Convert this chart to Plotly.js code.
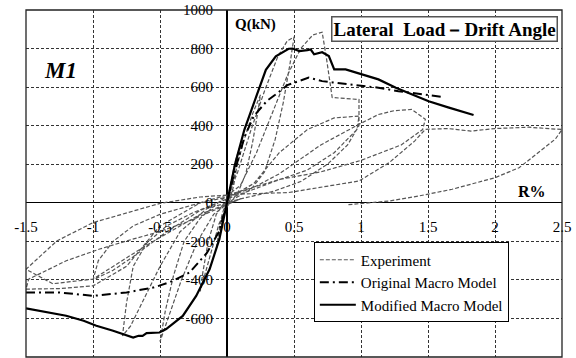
<!DOCTYPE html>
<html>
<head>
<meta charset="utf-8">
<script src="https://cdn.plot.ly/plotly-3.0.1.min.js"></script>
<style>html,body{margin:0;padding:0;background:#fff;}#chart{width:576px;height:358px;}</style>
</head>
<body>
<div id="chart"></div>
<script>
// Experiment (cyclic test), R% and Q(kN)
const expR = [0,0.03,0.06,0.1,0.08,0.05,0.02,-0.02,-0.05,-0.08,-0.065,-0.04,-0.01,0.02,
  0.06,0.12,0.19,0.25,0.23,0.19,0.14,0.08,0.0,-0.06,-0.12,-0.2,-0.18,-0.14,-0.08,0,
  0.08,0.18,0.28,0.38,0.45,0.5,0.47,0.42,0.36,0.28,0.18,0.05,-0.1,-0.22,-0.34,-0.43,-0.5,-0.46,-0.4,-0.32,-0.2,-0.05,
  0.1,0.22,0.34,0.45,0.55,0.64,0.71,0.74,0.785,0.9,0.985,0.985,0.9,0.75,0.55,0.35,0.1,-0.15,-0.35,-0.5,-0.62,-0.72,-0.78,-0.75,-0.7,-0.6,-0.45,-0.25,0,
  0.2,0.39,0.6,0.8,0.985,0.97,0.8,0.6,0.39,0.2,0,-0.2,
  -0.45,-0.7,-0.85,-1.0,-0.96,-0.85,-0.7,-0.5,-0.25,0,
  0.2,0.39,0.7,0.985,1.13,1.25,1.38,1.48,1.46,1.3,1.0,0.7,0.39,0.1,-0.2,
  -0.5,-0.75,-1.0,-1.25,-1.5,-1.48,-1.2,-0.95,-0.75,-0.53,-0.3,-0.1,0.1,
  -0.2,-0.6,-1.0,-1.3,-1.5,
  -1.27,-1.0,-0.7,-0.5,-0.2,0.1,0.46,0.985,1.21,1.4,1.48,1.65,1.82,2.0,2.25,2.5,
  2.45,2.32,2.18,2.0,1.68,1.43,1.21,0.9];
const expQ = [0,110,210,300,220,90,10,-50,-140,-240,-170,-70,0,40,
  150,310,460,560,470,310,150,50,-20,-110,-260,-460,-360,-200,-60,20,
  160,380,580,760,840,860,720,520,330,160,70,20,-60,-200,-400,-580,-720,-560,-380,-200,-80,10,
  90,260,470,660,800,870,885,760,546,540,536,400,300,200,110,60,20,-30,-150,-330,-500,-640,-690,-520,-330,-210,-120,-50,20,
  100,260,380,440,450,380,260,170,120,70,20,-40,
  -150,-280,-350,-400,-300,-200,-120,-60,-10,30,
  80,150,300,407,458,478,484,433,380,300,220,160,121,60,0,
  -120,-330,-431,-445,-448,-396,-301,-240,-198,-155,-100,-40,20,
  -60,-220,-396,-420,-345,
  -198,-103,-42,-3,30,45,53,113,208,320,381,385,372,385,392,380,
  330,260,182,130,70,35,9,-10];

// Original Macro Model
const origR = [-1.5,-1.25,-1.0,-0.75,-0.55,-0.43,-0.28,-0.15,-0.06,0,0.06,0.13,0.2,0.3,0.36,0.45,0.61,0.71,0.79,0.96,1.13,1.28,1.45,1.62];
const origQ = [-465,-465,-483,-465,-440,-413,-362,-260,-150,0,170,340,450,530,560,610,649,631,624,609,597,579,562,548];

// Modified Macro Model
const modR = [-1.5,-1.32,-1.2,-1.07,-0.975,-0.85,-0.75,-0.70,-0.66,-0.63,-0.60,-0.504,-0.454,-0.33,-0.23,-0.13,-0.057,0,0.06,0.13,0.24,0.29,0.364,0.46,0.49,0.54,0.6,0.625,0.65,0.71,0.76,0.80,0.885,1.01,1.13,1.26,1.38,1.505,1.65,1.84];
const modQ = [-548,-569,-586,-612,-638,-664,-690,-699,-690,-690,-676,-673,-655,-587,-483,-345,-189,0,200,380,598,690,760,799,800,787,792,795,770,781,761,692,692,666,640,597,562,527,495,455];

const xTicks = [-1.5,-1,-0.5,0,0.5,1,1.5,2,2.5];
const xTickText = ['-1.5','-1','-0.5','0','0.5','1','1.5','2','2.5'];
const yTicks = [-800,-600,-400,-200,0,200,400,600,800,1000];
const yTickText = ['-800','-600','-400','-200','0','200','400','600','800','1000'];

const serif = 'Liberation Serif, DejaVu Serif, serif';

const traces = [
  {x: expR, y: expQ, mode: 'lines', name: 'Experiment',
   line: {color: '#555', width: 1.2, dash: '4px,2px'}},
  {x: origR, y: origQ, mode: 'lines', name: 'Original Macro Model',
   line: {color: '#000', width: 2, dash: '9px,4px,2px,4px'}},
  {x: modR, y: modQ, mode: 'lines', name: 'Modified Macro Model',
   line: {color: '#000', width: 2.2}}
];

const layout = {
  width: 576, height: 358,
  margin: {l: 26, r: 14, t: 10, b: 1},
  paper_bgcolor: '#fff', plot_bgcolor: '#fff',
  showlegend: true,
  font: {family: serif, size: 15, color: '#000'},
  xaxis: {
    range: [-1.5, 2.5], tickvals: xTicks, ticktext: xTickText,
    anchor: 'free', position: 800/1800,
    showgrid: true, gridcolor: '#333', griddash: '3px,2px', gridwidth: 1,
    zeroline: true, zerolinecolor: '#000', zerolinewidth: 1.3,
    showline: false, ticks: '', ticklabelstandoff: 13,
    tickfont: {family: serif, size: 15, color: '#000'}, fixedrange: true
  },
  yaxis: {
    range: [-800, 1000], tickvals: yTicks, ticktext: yTickText,
    anchor: 'free', position: 1.5/4,
    showgrid: true, gridcolor: '#333', griddash: '3px,2px', gridwidth: 1,
    zeroline: true, zerolinecolor: '#000', zerolinewidth: 1.3,
    showline: false, ticks: '', ticklabelstandoff: 14,
    tickfont: {family: serif, size: 15, color: '#000'}, fixedrange: true
  },
  legend: {
    x: 0.537, y: 0.33, xanchor: 'left', yanchor: 'top',
    bgcolor: '#fff', bordercolor: '#000', borderwidth: 1,
    font: {family: serif, size: 15, color: '#000'},
    tracegroupgap: 0, itemwidth: 36
  },
  shapes: [
    {type: 'rect', xref: 'paper', yref: 'paper', x0: 0, x1: 1, y0: 0, y1: 1,
     line: {color: '#222', width: 1.3}, layer: 'above'}
  ],
  annotations: [
    {xref: 'paper', yref: 'paper', x: 0.781, y: 0.945, xanchor: 'center', yanchor: 'middle',
     text: '<b>Lateral\u00a0\u00a0Load\uFF0DDrift Angle</b>', showarrow: false,
     font: {family: serif, size: 19, color: '#000'},
     bgcolor: '#fff', bordercolor: '#555', borderwidth: 1.5, borderpad: 1},
    {xref: 'paper', yref: 'paper', x: 0.429, y: 0.957, xanchor: 'center', yanchor: 'middle',
     text: '<b>Q(kN)</b>', showarrow: false, font: {family: serif, size: 15, color: '#000'}},
    {xref: 'paper', yref: 'paper', x: 0.944, y: 0.476, xanchor: 'center', yanchor: 'middle',
     text: '<b>R%</b>', showarrow: false, font: {family: serif, size: 16, color: '#000'}},
    {xref: 'paper', yref: 'paper', x: 0.065, y: 0.827, xanchor: 'center', yanchor: 'middle',
     text: '<b><i>M1</i></b>', showarrow: false, font: {family: serif, size: 23, color: '#000'}}
  ]
};

Plotly.newPlot('chart', traces, layout, {staticPlot: true, displayModeBar: false});
</script>
</body>
</html>
